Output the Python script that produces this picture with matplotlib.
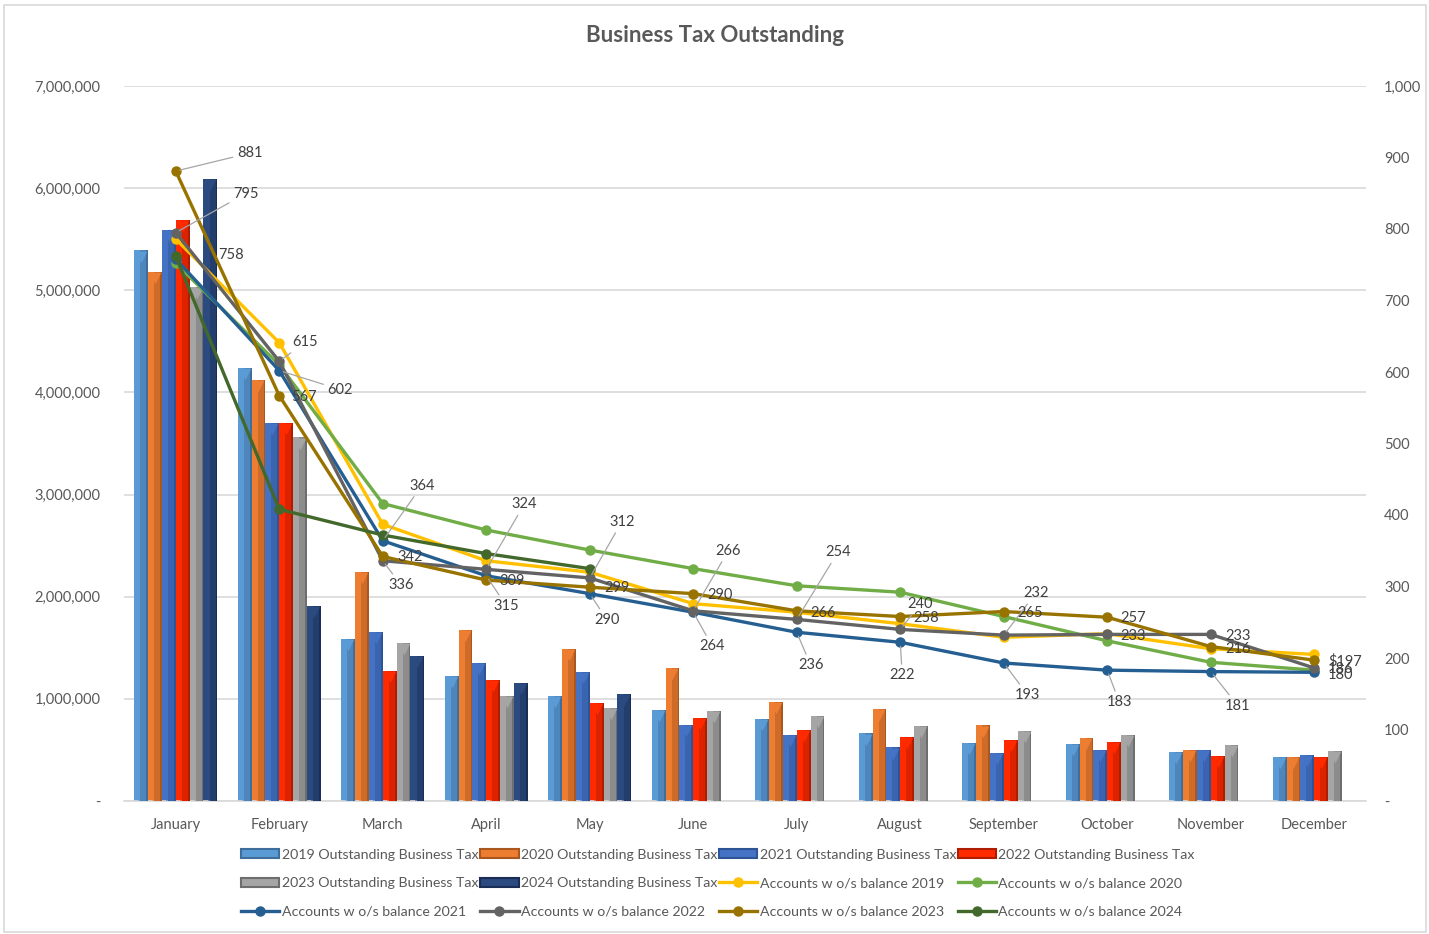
import matplotlib
matplotlib.use("Agg")
import matplotlib.pyplot as plt
from matplotlib.patches import Patch, Rectangle
from matplotlib.lines import Line2D
from matplotlib.ticker import FuncFormatter, MultipleLocator
import numpy as np

plt.rcParams['font.family'] = ['Lato', 'DejaVu Sans']

months = ["January", "February", "March", "April", "May", "June", "July",
          "August", "September", "October", "November", "December"]

nan = np.nan
tax_2019 = [5390000, 4240000, 1590000, 1227000, 1028000, 888000, 803000, 661000, 571000, 555000, 477000, 428000]
tax_2020 = [5180000, 4120000, 2240000, 1678000, 1490000, 1300000, 973000, 900000, 740000, 620000, 500000, 428000]
tax_2021 = [5590000, 3700000, 1655000, 1355000, 1266000, 745000, 650000, 525000, 473000, 500000, 500000, 448000]
tax_2022 = [5690000, 3700000, 1276000, 1185000, 960000, 813000, 700000, 623000, 600000, 575000, 444000, 434000]
tax_2023 = [5030000, 3560000, 1545000, 1032000, 908000, 882000, 833000, 734000, 690000, 650000, 550000, 487000]
tax_2024 = [6090000, 1910000, 1420000, 1153000, 1048000, nan, nan, nan, nan, nan, nan, nan]

acc_2019 = [786, 641, 387, 336, 320, 276, 264, 248, 229, 234, 213, 205]
acc_2020 = [752, 610, 416, 379, 351, 325, 301, 292, 258, 224, 194, 183]
acc_2021 = [758, 602, 364, 315, 290, 264, 236, 222, 193, 183, 181, 180]
acc_2022 = [795, 615, 336, 324, 312, 266, 254, 240, 232, 233, 233, 186]
acc_2023 = [881, 567, 342, 309, 299, 290, 266, 258, 265, 257, 216, 197]
acc_2024 = [762, 408, 372, 346, 325, nan, nan, nan, nan, nan, nan, nan]

bar_names = ["2019 Outstanding Business Tax", "2020 Outstanding Business Tax",
             "2021 Outstanding Business Tax", "2022 Outstanding Business Tax",
             "2023 Outstanding Business Tax", "2024 Outstanding Business Tax"]
line_names = ["Accounts w o/s balance 2019", "Accounts w o/s balance 2020",
              "Accounts w o/s balance 2021", "Accounts w o/s balance 2022",
              "Accounts w o/s balance 2023", "Accounts w o/s balance 2024"]

bar_light = ["#5B9BD5", "#ED7D31", "#4472C4", "#FF2A00", "#A5A5A5", "#2B4A80"]
bar_dark = ["#3F6E9C", "#A9571F", "#2F5496", "#B01C00", "#6E6E6E", "#1A2E55"]
line_colors = ["#FFC000", "#70AD47", "#255E91", "#636363", "#997300", "#43682B"]

bar_data = [tax_2019, tax_2020, tax_2021, tax_2022, tax_2023, tax_2024]
line_data = [acc_2019, acc_2020, acc_2021, acc_2022, acc_2023, acc_2024]

# data labels shown in the reference (2021, 2022, 2023 series)
lab_2021 = ["758", "602", "364", "315", "290", "264", "236", "222", "193", "183", "181", "180"]
lab_2022 = ["795", "615", "336", "324", "312", "266", "254", "240", "232", "233", "233", "186"]
lab_2023 = ["881", "567", "342", "309", "299", "290", "266", "258", "265", "257", "216", "$197"]

off_2021 = [(55, -4), (61, 19), (39, -55), (20, 30), (17, 26), (19, 34), (14, 33), (2, 33),
            (24, 32), (12, 32), (27, 34), (26, 3)]
off_2022 = [(70, -39), (26, -19), (18, 24), (38, -65), (32, -56), (35, -60), (41, -67), (20, -25),
            (32, -42), (26, 2), (27, 2), (26, 1)]
off_2023 = [(74, -18), (25, 1), (27, 1), (26, 1), (27, 1), (27, 1), (26, 2), (26, 1),
            (26, 1), (26, 1), (27, 2), (31, 1)]

TXT = "#595959"
GRID = "#D9D9D9"

fig = plt.figure(figsize=(14.29, 9.34), dpi=100)
fig.patch.set_facecolor("white")
fig.patches.append(Rectangle((4 / 1429, 2 / 934), 1422 / 1429, 927 / 934, transform=fig.transFigure,
                             fill=False, edgecolor="#D9D9D9", linewidth=1.2))

ax = fig.add_axes([124 / 1429, 1 - 801 / 934, (1366 - 124) / 1429, (801 - 86) / 934])
x = np.arange(len(months))
w = 0.134
for i in range(6):
    xs = x + (i - 2.5) * w
    vals = np.array(bar_data[i], dtype=float)
    ax.bar(xs, vals, w, color=bar_light[i], linewidth=0, zorder=2)
    ax.bar(xs + w * 0.22, vals, w * 0.56, color=bar_dark[i], linewidth=0, zorder=3)
    ax.bar(xs + w * 0.08, vals, w * 0.58, color=bar_light[i], linewidth=0, zorder=3, alpha=0.55)
    ax.scatter(xs, vals - 60000, marker="v", s=70, color=bar_light[i], linewidths=0, zorder=4)

ax.set_xlim(-0.5, 11.5)
ax.set_ylim(0, 7000000)
ax.yaxis.set_major_locator(MultipleLocator(1000000))
ax.yaxis.set_major_formatter(FuncFormatter(lambda v, p: "-" if v == 0 else f"{int(v):,}"))
ax.grid(axis="y", color=GRID, linewidth=1.2, zorder=0)
ax.set_axisbelow(True)
ax.set_xticks(x)
ax.set_xticklabels(months)
for s in ["top", "right", "left"]:
    ax.spines[s].set_visible(False)
ax.spines["bottom"].set_color(GRID)
ax.spines["bottom"].set_linewidth(1.2)
ax.tick_params(axis="y", length=0, pad=17, labelcolor=TXT, labelsize=10.5)
ax.tick_params(axis="x", length=0, pad=12, labelcolor=TXT, labelsize=10.5)

ax2 = ax.twinx()
ax2.set_ylim(0, 1000)
ax2.yaxis.set_major_locator(MultipleLocator(100))
ax2.yaxis.set_major_formatter(FuncFormatter(lambda v, p: "-" if v == 0 else f"{int(v):,}"))
for s in ["top", "right", "left", "bottom"]:
    ax2.spines[s].set_visible(False)
ax2.tick_params(axis="y", length=0, pad=13, labelcolor=TXT, labelsize=10.5)

for i in range(6):
    ax2.plot(x, line_data[i], color=line_colors[i], linewidth=2.4, marker="o",
             markersize=6.5, zorder=3 + i * 0.1)

def add_labels(vals, labs, offs):
    for j in range(len(vals)):
        dx, dy = offs[j]
        kw = {}
        if abs(dy) > 15:
            kw["arrowprops"] = dict(arrowstyle="-", color="#A6A6A6", lw=0.9,
                                    shrinkA=1, shrinkB=3)
        ax2.annotate(labs[j], xy=(x[j], vals[j]), xytext=(dx, -dy),
                     textcoords="offset pixels", ha="center", va="center",
                     fontsize=10.5, color="#404040", zorder=10, **kw)

add_labels(acc_2021, lab_2021, off_2021)
add_labels(acc_2022, lab_2022, off_2022)
add_labels(acc_2023, lab_2023, off_2023)

fig.text(715 / 1429, 1 - 36 / 934, "Business Tax Outstanding", ha="center", va="center",
         fontsize=16, fontweight="bold", color=TXT)

bar_handles = [Patch(facecolor=bar_light[i], edgecolor=bar_dark[i], linewidth=1.5) for i in range(6)]
line_handles = [Line2D([0], [0], color=line_colors[i], linewidth=2.4, marker="o", markersize=6.5)
                for i in range(6)]
handles = bar_handles + line_handles
labels = bar_names + line_names
# Excel fills the legend row by row, matplotlib column by column
ncol, nrow = 4, 3
order = [r * ncol + c for c in range(ncol) for r in range(nrow)]
leg = fig.legend([handles[k] for k in order], [labels[k] for k in order],
                 loc="center", bbox_to_anchor=(718 / 1429, 1 - 883 / 934), ncol=ncol,
                 frameon=False, fontsize=10.2, labelcolor=TXT, handlelength=2.7,
                 handleheight=0.6, handletextpad=0.15, columnspacing=0.15, labelspacing=1.15)

fig.savefig("out.png", dpi=100, facecolor="white")
